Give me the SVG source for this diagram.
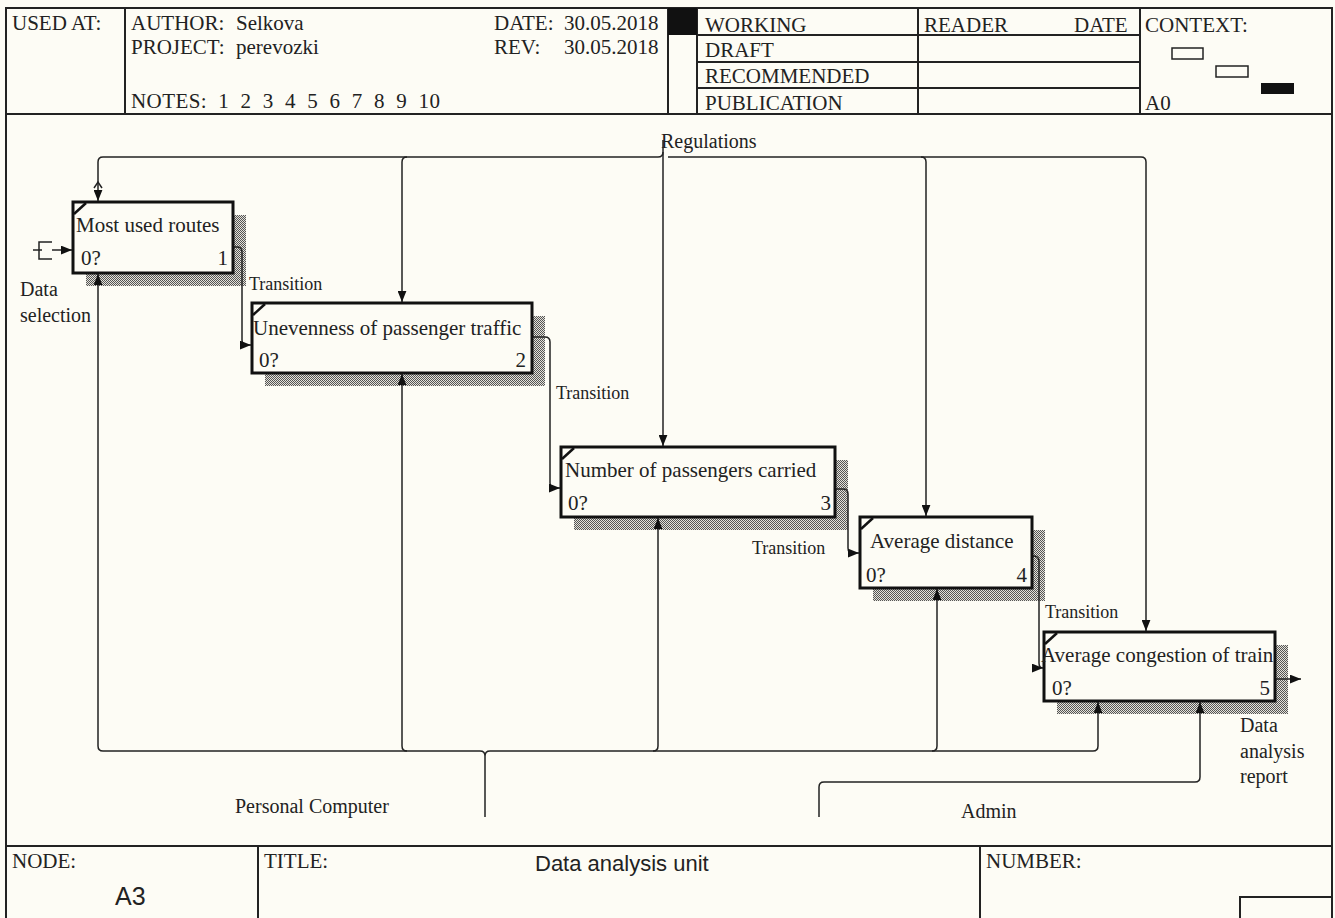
<svg xmlns="http://www.w3.org/2000/svg" width="1335" height="918" viewBox="0 0 1335 918">
<defs>
<pattern id="hatch" width="2" height="2" patternUnits="userSpaceOnUse">
<rect width="2" height="2" fill="#e4e2da"/>
<rect x="0" y="0" width="1" height="1" fill="#555"/>
<rect x="1" y="1" width="1" height="1" fill="#555"/>
</pattern>
<marker id="ah" viewBox="0 0 10 8" refX="10" refY="4" markerWidth="11" markerHeight="9" orient="auto" markerUnits="userSpaceOnUse">
<path d="M0,0 L10,4 L0,8 z" fill="#111"/>
</marker>
<style>
.bg{fill:#fdfcf5}
.frame{fill:none;stroke:#222;stroke-width:2}
.t{font-family:"Liberation Serif","Times New Roman",serif;font-size:21px;fill:#222}
.s{font-family:"Liberation Serif","Times New Roman",serif;font-size:20px;fill:#222}
.tr{font-family:"Liberation Serif","Times New Roman",serif;font-size:18px;fill:#222}
.sans{font-family:"Liberation Sans",Arial,sans-serif;fill:#222}
.box{fill:#fdfcf5;stroke:#111;stroke-width:3}
.shadow{fill:url(#hatch)}
.c{fill:none;stroke:#222;stroke-width:1.5}
.ca{fill:none;stroke:#222;stroke-width:1.5;marker-end:url(#ah)}
.corner{stroke:#111;stroke-width:2.5}
</style>
</defs>
<rect class="bg" x="0" y="0" width="1335" height="918"/>

<g id="header">
<rect class="frame" x="6" y="8" width="1326" height="106"/>
<line class="frame" x1="125" y1="8" x2="125" y2="114"/>
<line class="frame" x1="668" y1="8" x2="668" y2="114"/>
<line class="frame" x1="697" y1="8" x2="697" y2="114"/>
<line class="frame" x1="918" y1="8" x2="918" y2="114"/>
<line class="frame" x1="1140" y1="8" x2="1140" y2="114"/>
<line class="frame" x1="697" y1="35" x2="1140" y2="35"/>
<line class="frame" x1="697" y1="62" x2="1140" y2="62"/>
<line class="frame" x1="697" y1="88" x2="1140" y2="88"/>
<rect x="668" y="8" width="29" height="27" fill="#111"/>
<text class="t" x="12" y="30">USED AT:</text>
<text class="t" x="131" y="30">AUTHOR:</text>
<text class="t" x="236" y="30">Selkova</text>
<text class="t" x="131" y="54">PROJECT:</text>
<text class="t" x="236" y="54">perevozki</text>
<text class="t" x="131" y="108" xml:space="preserve" textLength="309">NOTES:  1  2  3  4  5  6  7  8  9  10</text>
<text class="t" x="494" y="30">DATE:</text>
<text class="t" x="564" y="30">30.05.2018</text>
<text class="t" x="494" y="54">REV:</text>
<text class="t" x="564" y="54">30.05.2018</text>
<text class="t" x="705" y="32">WORKING</text>
<text class="t" x="705" y="57">DRAFT</text>
<text class="t" x="705" y="83">RECOMMENDED</text>
<text class="t" x="705" y="110">PUBLICATION</text>
<text class="t" x="924" y="32">READER</text>
<text class="t" x="1074" y="32">DATE</text>
<text class="t" x="1145" y="32">CONTEXT:</text>
<rect x="1172" y="48" width="31" height="11" fill="none" stroke="#222" stroke-width="1.5"/>
<rect x="1216" y="66" width="32" height="11" fill="none" stroke="#222" stroke-width="1.5"/>
<rect x="1261" y="83" width="33" height="11" fill="#111"/>
<text class="t" x="1145" y="110">A0</text>
</g>

<g id="frame">
<line class="frame" x1="6" y1="114" x2="6" y2="918"/>
<line class="frame" x1="1332" y1="114" x2="1332" y2="918"/>
</g>

<g id="footer">
<line class="frame" x1="6" y1="846" x2="1332" y2="846"/>
<line class="frame" x1="258" y1="846" x2="258" y2="918"/>
<line class="frame" x1="980" y1="846" x2="980" y2="918"/>
<polyline class="frame" points="1240,918 1240,897 1332,897"/>
<text class="t" x="12" y="868">NODE:</text>
<text class="sans" x="115" y="905" font-size="25">A3</text>
<text class="t" x="264" y="868">TITLE:</text>
<text class="sans" x="535" y="871" font-size="22">Data analysis unit</text>
<text class="t" x="986" y="868">NUMBER:</text>
</g>

<g id="shadows">
<rect class="shadow" x="86" y="215" width="160" height="71"/>
<rect class="shadow" x="265" y="316" width="280" height="70"/>
<rect class="shadow" x="574" y="460" width="274" height="70"/>
<rect class="shadow" x="873" y="530" width="172" height="71"/>
<rect class="shadow" x="1057" y="645" width="231" height="69"/>
</g>

<g id="connectors">
<!-- Regulations -->
<path class="ca" d="M663,140 V446"/>
<path class="ca" d="M658,157 H103 Q98,157 98,162 V201"/>
<path class="c" d="M94,188 L98,182 L102,188"/>
<path class="ca" d="M407,157 Q402,157 402,162 V302"/>
<path class="ca" d="M668,157 H1141 Q1146,157 1146,162 V631"/>
<path class="ca" d="M921,157 Q926,157 926,162 V516"/>
<path class="c" d="M658,157 Q663,157 663,152"/>
<!-- Personal Computer -->
<path class="c" d="M485,817 V756 Q485,751 480,751 M485,756 Q485,751 490,751"/>
<path class="ca" d="M480,751 H103 Q98,751 98,746 V274"/>
<path class="ca" d="M407,751 Q402,751 402,746 V374"/>
<path class="ca" d="M490,751 H1093 Q1098,751 1098,746 V702"/>
<path class="ca" d="M653,751 Q658,751 658,746 V518"/>
<path class="ca" d="M932,751 Q937,751 937,746 V589"/>
<!-- Admin -->
<path class="ca" d="M819,817 V787 Q819,782 824,782 H1195 Q1200,782 1200,777 V702"/>
<!-- Data selection -->
<path class="c" d="M52,242 H39 V259 H52 M33,250 H42"/>
<path class="ca" d="M52,250 H72"/>
<!-- Transitions -->
<path class="ca" d="M234,247 H237 Q242,247 242,252 V340 Q242,345 246,345 H251"/>
<path class="ca" d="M533,337 H545 Q550,337 550,342 V483 Q550,488 555,488 H560"/>
<path class="ca" d="M836,489 H843 Q848,489 848,494 V548 Q848,553 853,553 H859"/>
<path class="ca" d="M1033,556 Q1039,556 1039,561 V663 Q1039,668 1043,668 H1043"/>
<path class="ca" d="M1276,679 H1301"/>
</g>

<g id="node1">
<rect class="box" x="73" y="202" width="160" height="71"/>
<line class="corner" x1="74" y1="214" x2="86" y2="203"/>
<text class="t" x="76" y="232">Most used routes</text>
<text class="t" x="81" y="265">0?</text>
<text class="t" x="228" y="265" text-anchor="end">1</text>
</g>
<g id="node2">
<rect class="box" x="252" y="303" width="280" height="70"/>
<line class="corner" x1="253" y1="315" x2="265" y2="304"/>
<text class="t" x="253" y="335">Unevenness of passenger traffic</text>
<text class="t" x="259" y="367">0?</text>
<text class="t" x="526" y="367" text-anchor="end">2</text>
</g>
<g id="node3">
<rect class="box" x="561" y="447" width="274" height="70"/>
<line class="corner" x1="562" y1="459" x2="574" y2="448"/>
<text class="t" x="565" y="477">Number of passengers carried</text>
<text class="t" x="568" y="510">0?</text>
<text class="t" x="831" y="510" text-anchor="end">3</text>
</g>
<g id="node4">
<rect class="box" x="860" y="517" width="172" height="71"/>
<line class="corner" x1="861" y1="529" x2="873" y2="518"/>
<text class="t" x="870" y="548">Average distance</text>
<text class="t" x="866" y="582">0?</text>
<text class="t" x="1027" y="582" text-anchor="end">4</text>
</g>
<g id="node5">
<rect class="box" x="1044" y="632" width="231" height="69"/>
<line class="corner" x1="1045" y1="644" x2="1057" y2="633"/>
<text class="t" x="1041" y="662">Average congestion of train</text>
<text class="t" x="1052" y="695">0?</text>
<text class="t" x="1270" y="695" text-anchor="end">5</text>
</g>

<g id="labels">
<text class="s" x="661" y="148">Regulations</text>
<text class="s" x="20" y="296">Data</text>
<text class="s" x="20" y="322">selection</text>
<text class="tr" x="249" y="290">Transition</text>
<text class="tr" x="556" y="399">Transition</text>
<text class="tr" x="752" y="554">Transition</text>
<text class="tr" x="1045" y="618">Transition</text>
<text class="s" x="235" y="813">Personal Computer</text>
<text class="s" x="961" y="818">Admin</text>
<text class="s" x="1240" y="732">Data</text>
<text class="s" x="1240" y="758">analysis</text>
<text class="s" x="1240" y="783">report</text>
</g>
</svg>
